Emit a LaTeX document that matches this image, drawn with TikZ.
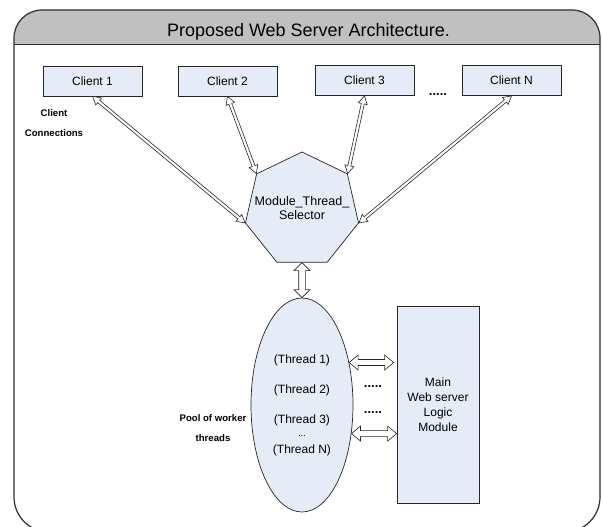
\documentclass[tikz,border=0pt]{standalone}
\usepackage{fontspec}
\setmainfont{Liberation Sans}
\usetikzlibrary{shapes.geometric,calc}
\definecolor{boxfill}{RGB}{230,236,247}
\definecolor{titlegray}{RGB}{192,192,192}
\definecolor{framecol}{RGB}{45,45,45}
\newcommand{\blockarrow}[5]{%
  \path[arrbody] let \p1=(#1), \p2=(#2),
    \n1={atan2(\y2-\y1,\x2-\x1)}, \n2={veclen(\x2-\x1,\y2-\y1)} in
    [shift={(\p1)}, rotate=\n1]
    (0pt,0pt) -- (#5,#4) -- (#5,#3) -- ({\n2-#5},#3) -- ({\n2-#5},#4) -- ({\n2+0pt},0pt)
    -- ({\n2-#5},-#4) -- ({\n2-#5},-#3) -- (#5,-#3) -- (#5,-#4) -- cycle;}
\def\framepath{(14,300) [rounded corners=28pt] -- (14,10) -- (600,10) -- (600,300) [rounded corners=35pt] -- (600,532) -- (14,532) -- cycle}
\tikzset{
  shapebox/.style={draw=black!85, fill=boxfill, line width=0.7pt, inner sep=0pt},
  cbox/.style={shapebox, minimum width=99pt, minimum height=30pt, font=\fontsize{12}{14}\selectfont},
  txt/.style={inner sep=0pt, font=\fontsize{12}{14}\selectfont},
  lbl/.style={inner sep=0pt, align=center, font=\bfseries\fontsize{9.6}{19.5}\selectfont},
  dotstxt/.style={inner sep=0pt, font=\bfseries\fontsize{13}{14}\selectfont},
  arrbody/.style={draw=black!85, fill=white, line width=0.6pt, line join=miter}
}
\begin{document}
\begin{tikzpicture}[x=1pt,y=-1pt]
\useasboundingbox (0,0) rectangle (603,527);
% frame and title bar
\begin{scope}
  \clip \framepath;
  \fill[titlegray] (0,0) rectangle (603,45);
\end{scope}
\draw[framecol, line width=1pt] (14,45) -- (600,45);
\draw[framecol, line width=1.2pt] \framepath;
\node[font=\fontsize{18}{20}\selectfont, anchor=base, inner sep=0pt] (title) at (308.4,36.7) {Proposed Web Server Architecture.};
% clients
\node[cbox] (c1) at (92.5,81) {Client 1};
\node[cbox] (c2) at (227.5,81) {Client 2};
\node[cbox] (c3) at (364.5,80.5) {Client 3};
\node[cbox] (cN) at (511.5,80.5) {Client N};
\node[dotstxt] (d0) at (438,95) {.....};
\node[lbl] (cc) at (54,123) {Client\\Connections};
% selector
\node[shapebox, regular polygon, regular polygon sides=7, minimum size=116pt] (sel) at (302,210) {};
\node[inner sep=0pt, align=center, font=\fontsize{12.5}{14.5}\selectfont] (seltxt) at (302,208) {Module\_Thread\_\\Selector};
% pool
\node[shapebox, ellipse, minimum width=102pt, minimum height=214pt] (pool) at (302,405) {};
\node[txt] (t1) at (302,360) {(Thread 1)};
\node[txt] (t2) at (302,390) {(Thread 2)};
\node[txt] (t3) at (302,420) {(Thread 3)};
\node[txt, font=\fontsize{9}{10}\selectfont] (t4) at (302,436.5) {...};
\node[txt] (tN) at (302,450) {(Thread N)};
\node[lbl] (pl) at (213,428) {Pool of worker\\threads};
% main module
\node[shapebox, minimum width=82pt, minimum height=197pt, align=center,
      font=\fontsize{12}{15}\selectfont] (main) at (438,404.5) {Main\\Web server\\Logic\\Module};
\node[dotstxt] (d1) at (373,387) {.....};
\node[dotstxt] (d2) at (373,413) {.....};
% connectors
\blockarrow{c1.south}{sel.corner 3}{1.5pt}{4.5pt}{8pt}
\blockarrow{c2.south}{sel.corner 2}{1.5pt}{4.5pt}{8pt}
\blockarrow{c3.south}{sel.corner 7}{1.5pt}{4.5pt}{8pt}
\blockarrow{cN.south}{sel.corner 6}{1.5pt}{4.5pt}{8pt}
\blockarrow{sel.south}{pool.north}{3.3pt}{8pt}{8pt}
\coordinate (h1a) at (pool.42);
\coordinate (h1b) at ($(pool.42 -| main.west)+(-3,0)$);
\coordinate (h2a) at (pool.-30);
\coordinate (h2b) at (pool.-30 -| main.west);
\blockarrow{h1a}{h1b}{3pt}{7.5pt}{9pt}
\blockarrow{h2a}{h2b}{3pt}{7.5pt}{9pt}
\end{tikzpicture}
\end{document}
